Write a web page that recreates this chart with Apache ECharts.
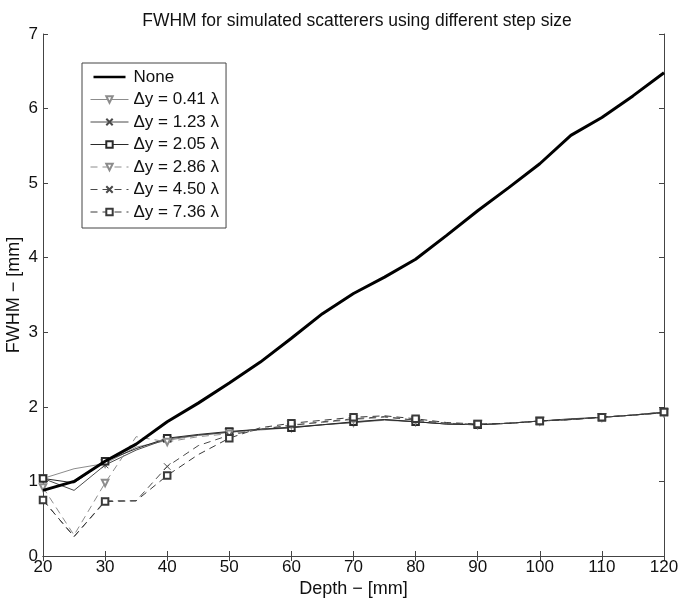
<!DOCTYPE html>
<html>
<head>
<meta charset="utf-8">
<script src="https://cdn.jsdelivr.net/npm/echarts@6/dist/echarts.min.js"></script>
<style>html,body{margin:0;padding:0;background:#fff;}#c{width:678px;height:601px;}</style>
</head>
<body>
<div id="c"></div>
<script>
const depth = [20,25,30,35,40,45,50,55,60,65,70,75,80,85,90,95,100,105,110,115,120];
const xTicks = [20,30,40,50,60,70,80,90,100,110,120];
const yTicks = [0,1,2,3,4,5,6,7];

const noneVals = [0.88,1.00,1.27,1.50,1.80,2.05,2.32,2.60,2.92,3.25,3.52,3.74,3.98,4.30,4.63,4.94,5.26,5.64,5.88,6.17,6.48];
const dy041 = [1.04,1.17,1.24,1.46,1.55,1.62,1.66,1.69,1.72,1.76,1.79,1.82,1.80,1.77,1.76,1.78,1.81,1.83,1.86,1.89,1.92];
const dy123 = [1.04,0.88,1.22,1.42,1.57,1.62,1.66,1.70,1.73,1.76,1.79,1.83,1.80,1.77,1.76,1.78,1.81,1.83,1.86,1.89,1.92];
const dy205 = [1.04,0.98,1.27,1.44,1.58,1.63,1.67,1.70,1.72,1.76,1.80,1.83,1.80,1.77,1.76,1.78,1.81,1.84,1.86,1.89,1.93];
const dy286 = [0.92,0.28,0.98,1.60,1.53,1.60,1.64,1.70,1.76,1.79,1.83,1.86,1.82,1.78,1.77,1.78,1.81,1.83,1.86,1.89,1.92];
const dy450 = [0.75,0.26,0.74,0.74,1.20,1.48,1.62,1.70,1.75,1.80,1.84,1.87,1.82,1.78,1.76,1.78,1.81,1.83,1.86,1.89,1.92];
const dy736 = [0.75,0.26,0.73,0.74,1.08,1.36,1.58,1.72,1.78,1.82,1.86,1.88,1.84,1.79,1.77,1.78,1.81,1.83,1.86,1.89,1.93];

const names = ['None','\u0394y = 0.41 \u03bb','\u0394y = 1.23 \u03bb','\u0394y = 2.05 \u03bb','\u0394y = 2.86 \u03bb','\u0394y = 4.50 \u03bb','\u0394y = 7.36 \u03bb'];

const FONT = 'Liberation Sans, Arial, Helvetica, sans-serif';
const xMark = 'path://M0,0L10,10M10,0L0,10';
// thick bar legend icon for "None" (tiny corner specks keep the bar thin inside the icon box)
const barIcon = 'path://M0,0L0.01,0L0,0.01Z M0,3.4H40V6.6H0Z M0,10L0.01,10L0,9.99Z';

function pts(vals) {
  return depth.map((d, i) => {
    const o = { value: [d, vals[i]] };
    if (i % 2 === 1) o.symbol = 'none';
    return o;
  });
}

function mk(name, vals, color, dashed, symbol, rotate) {
  return {
    name: name, type: 'line', data: pts(vals),
    symbol: symbol, symbolSize: 6.5, symbolRotate: rotate || 0,
    lineStyle: { color: color, width: 1, type: dashed ? [7,5] : 'solid' },
    itemStyle: { color: color, borderColor: color, borderWidth: 1 },
    z: 2, animation: false, emphasis: { disabled: true }
  };
}

const axisLine = { show: true, lineStyle: { color: '#444', width: 1 } };
const tick = { show: true, inside: true, length: 5, lineStyle: { color: '#444' } };

const chart = echarts.init(document.getElementById('c'));
chart.setOption({
  backgroundColor: '#fff',
  animation: false,
  title: {
    text: 'FWHM for simulated scatterers using different step size',
    left: 352, textAlign: 'center', top: 7,
    textStyle: { fontFamily: FONT, fontSize: 17.5, fontWeight: 'normal', color: '#111' }
  },
  grid: { left: 43, right: 14, top: 34, bottom: 45, containLabel: false, outerBoundsMode: 'none' },
  legend: {
    orient: 'vertical', left: 82, top: 63,
    padding: [5, 7, 7, 8], itemGap: 4.5, itemWidth: 38, itemHeight: 8,
    backgroundColor: '#fff', borderColor: '#444', borderWidth: 1,
    align: 'left',
    lineStyle: { width: 1 },
    textStyle: { fontFamily: FONT, fontSize: 17, color: '#111', lineHeight: 18 },
    data: [{ name: names[0], icon: barIcon }].concat(names.slice(1))
  },
  xAxis: [{
    type: 'value', min: 20, max: 120, interval: 10,
    name: 'Depth \u2212 [mm]', nameLocation: 'middle', nameGap: 24, nameMoveOverlap: false,
    nameTextStyle: { fontFamily: FONT, fontSize: 18, color: '#111' },
    axisLine: axisLine, axisTick: tick, splitLine: { show: false },
    axisLabel: { fontFamily: FONT, fontSize: 17, color: '#111', margin: 3, showMaxLabel: true, showMinLabel: true }
  }, {
    type: 'value', min: 20, max: 120, interval: 10, position: 'top',
    axisLine: axisLine, axisTick: tick, splitLine: { show: false }, axisLabel: { show: false }
  }],
  yAxis: [{
    type: 'value', min: 0, max: 7, interval: 1,
    name: 'FWHM \u2212 [mm]', nameLocation: 'middle', nameGap: 20, nameMoveOverlap: false,
    nameTextStyle: { fontFamily: FONT, fontSize: 18, color: '#111' },
    axisLine: axisLine, axisTick: tick, splitLine: { show: false },
    axisLabel: { fontFamily: FONT, fontSize: 17, color: '#111', margin: 5 }
  }, {
    type: 'value', min: 0, max: 7, interval: 1, position: 'right',
    axisLine: axisLine, axisTick: tick, splitLine: { show: false }, axisLabel: { show: false }
  }],
  series: [
    {
      name: names[0], type: 'line', data: pts(noneVals), symbol: 'none',
      lineStyle: { color: '#000', width: 3 }, itemStyle: { color: '#000' },
      z: 5, animation: false, emphasis: { disabled: true }
    },
    mk(names[1], dy041, '#8c8c8c', false, 'emptyTriangle', 180),
    mk(names[2], dy123, '#4a4a4a', false, xMark, 0),
    mk(names[3], dy205, '#2a2a2a', false, 'emptyRect', 0),
    mk(names[4], dy286, '#8c8c8c', true, 'emptyTriangle', 180),
    mk(names[5], dy450, '#4a4a4a', true, xMark, 0),
    mk(names[6], dy736, '#3a3a3a', true, 'emptyRect', 0)
  ]
});
</script>
</body>
</html>
